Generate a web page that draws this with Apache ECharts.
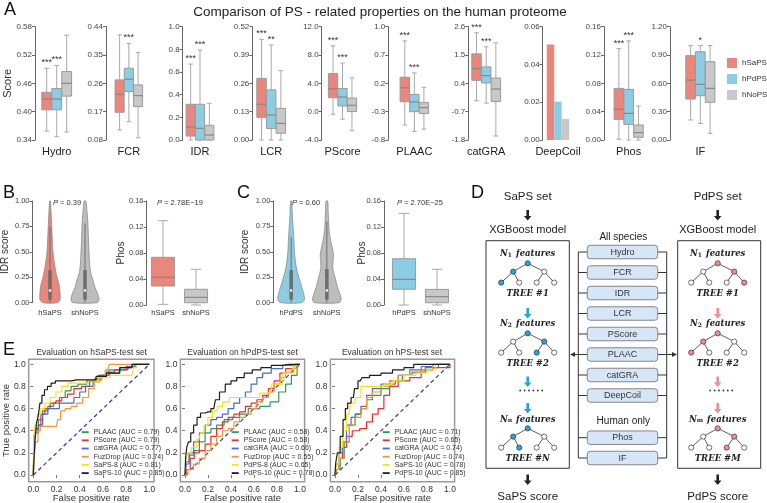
<!DOCTYPE html>
<html>
<head>
<meta charset="utf-8">
<title>PS-related properties on the human proteome</title>
<script src="https://cdn.jsdelivr.net/npm/echarts@6.0.0/dist/echarts.min.js"></script>
<style>
  html, body { margin: 0; padding: 0; background: #fff; }
  #chart { width: 767px; height: 503px; }
</style>
</head>
<body>
<div id="chart"></div>
<script>
const FONT = '"Liberation Sans", Arial, sans-serif';
const SERIF = '"DejaVu Serif", "Liberation Serif", serif';

// ---------- panel A data ----------
const groupNames = ['hSaPS', 'hPdPS', 'hNoPS'];
const groupColors = ['#EA867C', '#8DCDE3', '#C8C8C8'];

const hydroTicks = [0.34, 0.40, 0.46, 0.52, 0.58];
const fcrTicks = [0.08, 0.17, 0.26, 0.35, 0.44];
const idrTicks = [0, 0.2, 0.4, 0.6, 0.8, 1.0];
const lcrTicks = [0, 0.13, 0.26, 0.39, 0.52];
const pscoreTicks = [-4, 0, 4, 8, 12];
const plaacTicks = [-0.8, -0.3, 0.2, 0.7, 1.2];
const catgraTicks = [-1.8, -0.7, 0.4, 1.5, 2.6];
const deepcoilTicks = [0, 0.02, 0.04, 0.06];
const phosTicks = [0, 0.04, 0.08, 0.12, 0.16];
const ifTicks = [0, 0.3, 0.6, 0.9, 1.2];

const hydroLabels = ['0.34', '0.40', '0.46', '0.52', '0.58'];
const fcrLabels = ['0.08', '0.17', '0.26', '0.35', '0.44'];
const idrLabels = ['0.0', '0.2', '0.4', '0.6', '0.8', '1.0'];
const lcrLabels = ['0.00', '0.13', '0.26', '0.39', '0.52'];
const pscoreLabels = ['-4.0', '0.0', '4.0', '8.0', '12.0'];
const plaacLabels = ['-0.8', '-0.3', '0.2', '0.7', '1.0']; // top label printed as 1.0
const catgraLabels = ['-1.8', '-0.7', '0.4', '1.5', '2.6'];
const deepcoilLabels = ['0.00', '0.02', '0.04', '0.06'];
const phosLabels = ['0.00', '0.04', '0.08', '0.12', '0.16'];
const ifLabels = ['0.00', '0.30', '0.60', '0.90', '1.20'];

// [low, q1, median, q3, high] for hSaPS, hPdPS, hNoPS
const hydroBoxes = [[0.359, 0.404, 0.427, 0.441, 0.492], [0.347, 0.404, 0.427, 0.449, 0.498], [0.357, 0.433, 0.460, 0.485, 0.562]];
const fcrBoxes = [[0.112, 0.168, 0.225, 0.271, 0.414], [0.138, 0.234, 0.273, 0.308, 0.387], [0.087, 0.186, 0.221, 0.255, 0.358]];
const idrBoxes = [[0, 0.035, 0.115, 0.315, 0.67], [0, 0, 0.103, 0.315, 0.794], [0, 0, 0.044, 0.13, 0.324]];
const lcrBoxes = [[0, 0.104, 0.164, 0.283, 0.462], [0, 0.053, 0.115, 0.23, 0.436], [0, 0.031, 0.076, 0.145, 0.318]];
const pscoreBoxes = [[-0.36, 1.97, 3.23, 5.38, 9.3], [-1.06, 0.8, 2.07, 3.28, 6.87], [-2.69, 0.01, 0.9, 1.92, 4.77]];
const plaacBoxes = [[-0.537, -0.124, 0.121, 0.308, 0.95], [-0.648, -0.3, -0.13, 0.005, 0.384], [-0.607, -0.333, -0.228, -0.141, 0.133]];
const catgraBoxes = [[-0.277, 0.517, 0.973, 1.546, 2.366], [-0.368, 0.413, 0.7, 1.038, 1.819], [-1.644, -0.303, 0.179, 0.608, 1.975]];
const deepcoilBars = [0.0506, 0.0203, 0.0111];
const phosBoxes = [[0.001, 0.0292, 0.0433, 0.0729, 0.129], [0, 0.022, 0.0376, 0.0715, 0.14], [0, 0.0038, 0.0104, 0.0212, 0.048]];
const ifBoxes = [[0.212, 0.434, 0.635, 0.893, 0.999], [0.176, 0.469, 0.59, 0.935, 1.0], [0.07, 0.399, 0.547, 0.829, 1.0]];

const hydroStars = ['***', '***', ''];
const fcrStars = ['', '***', ''];
const idrStars = ['***', '***', ''];
const lcrStars = ['***', '**', ''];
const pscoreStars = ['***', '***', ''];
const plaacStars = ['***', '***', ''];
const catgraStars = ['***', '***', ''];
const phosStars = ['***', '***', ''];
const ifStars = ['', '*', ''];

// ---------- panels B / C data ----------
const bGroups = ['hSaPS', 'shNoPS'];
const cGroups = ['hPdPS', 'shNoPS'];
const violinTicks = [0, 0.25, 0.5, 0.75, 1.0];
const violinLabels = ['0.00', '0.25', '0.50', '0.75', '1.00'];
const phosBcTicks = [0, 0.04, 0.08, 0.12, 0.16];
const phosBcLabels = ['0.00', '0.04', '0.08', '0.12', '0.16'];

// violin half-widths (fraction of category band) at IDR score levels
const bSaPSViolin = [[0, 0.2], [0.03, 0.286], [0.1, 0.286], [0.18, 0.257], [0.25, 0.2], [0.35, 0.143], [0.5, 0.086], [0.65, 0.063], [0.8, 0.043], [0.9, 0.029], [1.0, 0.011]];
const bNoPSViolin = [[0, 0.343], [0.03, 0.4], [0.08, 0.371], [0.15, 0.286], [0.22, 0.229], [0.3, 0.157], [0.4, 0.129], [0.5, 0.114], [0.6, 0.1], [0.75, 0.086], [0.9, 0.057], [1.0, 0.023]];
const cPdPSViolin = [[0, 0.286], [0.03, 0.371], [0.08, 0.357], [0.15, 0.3], [0.25, 0.214], [0.35, 0.143], [0.5, 0.091], [0.6, 0.08], [0.7, 0.063], [0.8, 0.043], [0.9, 0.029], [1.0, 0.014]];
const cNoPSViolin = [[0, 0.343], [0.03, 0.4], [0.08, 0.371], [0.15, 0.3], [0.25, 0.229], [0.33, 0.171], [0.4, 0.171], [0.47, 0.186], [0.55, 0.143], [0.65, 0.086], [0.75, 0.057], [0.9, 0.037], [1.0, 0.023]];
// inner box of violins: [low, q1, median, q3, high]
const bViolinStats = [[0, 0.03, 0.12, 0.32, 0.75], [0, 0.03, 0.12, 0.32, 0.78]];
const cViolinStats = [[0, 0.03, 0.12, 0.32, 0.65], [0, 0.03, 0.12, 0.33, 0.8]];
const bPhosBoxes = [[0.001, 0.0292, 0.0426, 0.0734, 0.1297], [0, 0.0035, 0.0118, 0.0242, 0.055]];
const cPhosBoxes = [[0, 0.0242, 0.0395, 0.0712, 0.141], [0, 0.0035, 0.0128, 0.024, 0.055]];

// ---------- panel E data (ROC curves, [FPR, TPR]) ----------
const rocTicks = [0, 0.2, 0.4, 0.6, 0.8, 1.0];
const diagonal = [[0, 0], [1, 1]];
const rocColors = ['#2E9B57', '#EE2D2D', '#4A6BD0', '#F5963A', '#F9E21C', '#1E1E1E'];

const saps1Names = ['PLAAC (AUC = 0.79)', 'PScore (AUC = 0.79)', 'catGRA (AUC = 0.77)', 'FuzDrop (AUC = 0.74)', 'SaPS-8 (AUC = 0.81)', 'SaPS-10 (AUC = 0.85)'];
const plaac1 = [[0, 0], [0.01, 0.35], [0.03, 0.42], [0.06, 0.5], [0.1, 0.58], [0.15, 0.62], [0.2, 0.65], [0.25, 0.7], [0.3, 0.76], [0.35, 0.8], [0.42, 0.82], [0.5, 0.85], [0.56, 0.87], [0.6, 0.9], [0.7, 0.95], [0.8, 0.97], [0.9, 1], [1, 1]];
const pscore1 = [[0, 0], [0.01, 0.3], [0.03, 0.4], [0.05, 0.45], [0.08, 0.55], [0.12, 0.6], [0.17, 0.65], [0.22, 0.67], [0.27, 0.7], [0.32, 0.73], [0.38, 0.78], [0.45, 0.8], [0.52, 0.85], [0.6, 0.9], [0.65, 0.93], [0.75, 0.95], [0.85, 0.98], [0.9, 1], [1, 1]];
const catgra1 = [[0, 0], [0.01, 0.3], [0.03, 0.38], [0.06, 0.45], [0.1, 0.55], [0.15, 0.6], [0.2, 0.6], [0.25, 0.65], [0.32, 0.65], [0.38, 0.7], [0.42, 0.75], [0.48, 0.8], [0.55, 0.86], [0.62, 0.9], [0.7, 0.92], [0.78, 0.95], [0.85, 0.98], [0.9, 1], [1, 1]];
const fuzdrop1 = [[0, 0], [0.01, 0.15], [0.03, 0.3], [0.05, 0.4], [0.07, 0.44], [0.2, 0.44], [0.22, 0.5], [0.25, 0.58], [0.3, 0.6], [0.35, 0.62], [0.4, 0.65], [0.45, 0.7], [0.5, 0.78], [0.55, 0.84], [0.6, 0.88], [0.64, 0.95], [0.67, 1], [1, 1]];
const saps8_1 = [[0, 0], [0.005, 0.3], [0.02, 0.45], [0.05, 0.55], [0.08, 0.6], [0.12, 0.65], [0.17, 0.7], [0.22, 0.75], [0.27, 0.8], [0.33, 0.83], [0.45, 0.83], [0.5, 0.85], [0.62, 0.88], [0.7, 0.9], [0.85, 0.9], [0.88, 0.97], [0.9, 1], [1, 1]];
const saps10_1 = [[0, 0], [0.01, 0.14], [0.02, 0.32], [0.034, 0.47], [0.05, 0.53], [0.063, 0.65], [0.086, 0.72], [0.106, 0.77], [0.137, 0.8], [0.17, 0.83], [0.21, 0.85], [0.29, 0.85], [0.37, 0.86], [0.51, 0.86], [0.57, 0.89], [0.69, 0.92], [0.8, 0.97], [0.9, 1], [1, 1]];

const pdps2Names = ['PLAAC (AUC = 0.58)', 'PScore (AUC = 0.58)', 'catGRA (AUC = 0.66)', 'FuzDrop (AUC = 0.55)', 'PdPS-8 (AUC = 0.65)', 'PdPS-10 (AUC = 0.78)'];
const plaac2 = [[0, 0], [0.02, 0.12], [0.06, 0.18], [0.1, 0.22], [0.15, 0.3], [0.2, 0.38], [0.25, 0.42], [0.3, 0.45], [0.38, 0.5], [0.45, 0.52], [0.5, 0.55], [0.6, 0.6], [0.7, 0.62], [0.78, 0.66], [0.85, 0.75], [0.9, 0.82], [0.95, 0.9], [1, 1]];
const pscore2 = [[0, 0], [0.03, 0.05], [0.06, 0.15], [0.1, 0.2], [0.15, 0.22], [0.2, 0.28], [0.25, 0.35], [0.3, 0.42], [0.35, 0.48], [0.4, 0.52], [0.45, 0.55], [0.5, 0.57], [0.55, 0.62], [0.6, 0.65], [0.65, 0.68], [0.7, 0.72], [0.75, 0.78], [0.8, 0.85], [0.85, 0.92], [0.9, 0.96], [1, 1]];
const catgra2 = [[0, 0], [0.02, 0.1], [0.05, 0.2], [0.1, 0.3], [0.15, 0.38], [0.2, 0.45], [0.25, 0.5], [0.3, 0.52], [0.35, 0.55], [0.4, 0.6], [0.45, 0.65], [0.5, 0.7], [0.55, 0.75], [0.6, 0.82], [0.65, 0.88], [0.7, 0.92], [0.8, 0.96], [0.9, 0.99], [1, 1]];
const fuzdrop2 = [[0, 0], [0.05, 0.05], [0.1, 0.1], [0.15, 0.15], [0.2, 0.22], [0.25, 0.28], [0.3, 0.35], [0.35, 0.4], [0.4, 0.42], [0.45, 0.48], [0.5, 0.52], [0.55, 0.55], [0.6, 0.6], [0.65, 0.66], [0.7, 0.7], [0.75, 0.75], [0.8, 0.82], [0.85, 0.88], [0.9, 0.93], [0.95, 0.96], [1, 1]];
const pdps8_2 = [[0, 0], [0.01, 0.12], [0.03, 0.2], [0.08, 0.25], [0.12, 0.32], [0.15, 0.38], [0.18, 0.45], [0.22, 0.52], [0.26, 0.58], [0.3, 0.62], [0.35, 0.66], [0.42, 0.7], [0.6, 0.7], [0.7, 0.74], [0.8, 0.82], [0.9, 0.92], [1, 1]];
const pdps10_2 = [[0, 0], [0.01, 0.15], [0.02, 0.25], [0.04, 0.3], [0.06, 0.38], [0.09, 0.45], [0.12, 0.52], [0.15, 0.56], [0.2, 0.57], [0.25, 0.6], [0.28, 0.68], [0.32, 0.75], [0.38, 0.82], [0.42, 0.85], [0.48, 0.88], [0.55, 0.92], [0.62, 0.95], [0.7, 0.97], [0.8, 0.99], [0.9, 1], [1, 1]];

const hps3Names = ['PLAAC (AUC = 0.71)', 'PScore (AUC = 0.65)', 'catGRA (AUC = 0.74)', 'FuzDrop (AUC = 0.74)', 'SaPS-10 (AUC = 0.78)', 'PdPS-10 (AUC = 0.85)'];
const plaac3 = [[0, 0], [0.03, 0.05], [0.06, 0.15], [0.1, 0.3], [0.15, 0.45], [0.2, 0.55], [0.25, 0.6], [0.3, 0.68], [0.35, 0.72], [0.45, 0.78], [0.5, 0.82], [0.55, 0.85], [0.62, 0.9], [0.72, 0.93], [0.85, 0.97], [0.95, 1], [1, 1]];
const pscore3 = [[0, 0], [0.02, 0.05], [0.05, 0.15], [0.08, 0.25], [0.12, 0.35], [0.18, 0.4], [0.25, 0.42], [0.3, 0.48], [0.35, 0.55], [0.4, 0.6], [0.45, 0.72], [0.5, 0.8], [0.6, 0.85], [0.7, 0.88], [0.8, 0.95], [0.9, 0.97], [1, 0.97], [1, 1]];
const catgra3 = [[0, 0], [0.02, 0.1], [0.05, 0.2], [0.08, 0.3], [0.12, 0.45], [0.16, 0.52], [0.2, 0.55], [0.25, 0.62], [0.3, 0.72], [0.35, 0.78], [0.45, 0.82], [0.5, 0.85], [0.6, 0.9], [0.7, 0.95], [0.8, 0.98], [0.9, 1], [1, 1]];
const fuzdrop3 = [[0, 0], [0.02, 0.05], [0.05, 0.15], [0.1, 0.3], [0.15, 0.45], [0.2, 0.52], [0.25, 0.6], [0.3, 0.7], [0.35, 0.75], [0.45, 0.8], [0.5, 0.85], [0.6, 0.9], [0.7, 0.92], [0.8, 0.95], [0.9, 1], [1, 1]];
const saps10_3 = [[0, 0], [0.02, 0.1], [0.05, 0.25], [0.08, 0.4], [0.12, 0.55], [0.15, 0.65], [0.2, 0.7], [0.25, 0.8], [0.4, 0.8], [0.45, 0.82], [0.55, 0.85], [0.65, 0.9], [0.75, 0.92], [0.85, 0.95], [0.9, 1], [1, 1]];
const pdps10_3 = [[0, 0], [0.01, 0.1], [0.03, 0.2], [0.06, 0.35], [0.08, 0.5], [0.1, 0.6], [0.12, 0.65], [0.16, 0.7], [0.18, 0.78], [0.22, 0.85], [0.25, 0.88], [0.35, 0.9], [0.45, 0.92], [0.55, 0.95], [0.65, 0.97], [0.72, 1], [1, 1]];

// ---------- panel D text ----------
const dFeatAll = ['Hydro', 'FCR', 'IDR', 'LCR', 'PScore', 'PLAAC', 'catGRA', 'DeepCoil'];
const dFeatHuman = ['Phos', 'IF'];

// ---------- layout ----------
const A_TOP = 26.7, A_H = 113.3;
const aLayout = [
  { axisX: 35, left: 41.7, width: 30 },
  { axisX: 106, left: 115, width: 27.7 },
  { axisX: 182.7, left: 186, width: 28 },
  { axisX: 252.3, left: 256.7, width: 29 },
  { axisX: 321.7, left: 328.3, width: 28.4 },
  { axisX: 388.3, left: 400, width: 28.7 },
  { axisX: 468.3, left: 471.7, width: 29 },
  { axisX: 542.7, left: 546.7, width: 22.6 },
  { axisX: 604, left: 614, width: 29.3 },
  { axisX: 670, left: 685.7, width: 29.3 }
];
const aPanels = [
  { name: 'Hydro', ticks: hydroTicks, labels: hydroLabels, boxes: hydroBoxes, stars: hydroStars },
  { name: 'FCR', ticks: fcrTicks, labels: fcrLabels, boxes: fcrBoxes, stars: fcrStars },
  { name: 'IDR', ticks: idrTicks, labels: idrLabels, boxes: idrBoxes, stars: idrStars },
  { name: 'LCR', ticks: lcrTicks, labels: lcrLabels, boxes: lcrBoxes, stars: lcrStars },
  { name: 'PScore', ticks: pscoreTicks, labels: pscoreLabels, boxes: pscoreBoxes, stars: pscoreStars },
  { name: 'PLAAC', ticks: plaacTicks, labels: plaacLabels, boxes: plaacBoxes, stars: plaacStars },
  { name: 'catGRA', ticks: catgraTicks, labels: catgraLabels, boxes: catgraBoxes, stars: catgraStars },
  { name: 'DeepCoil', ticks: deepcoilTicks, labels: deepcoilLabels, bars: deepcoilBars },
  { name: 'Phos', ticks: phosTicks, labels: phosLabels, boxes: phosBoxes, stars: phosStars },
  { name: 'IF', ticks: ifTicks, labels: ifLabels, boxes: ifBoxes, stars: ifStars }
];

const grids = [], xAxes = [], yAxes = [], series = [], titles = [], legends = [];

function addGrid(left, top, width, height, extra) {
  grids.push(Object.assign({ left, top, width, height, containLabel: false, outerBoundsMode: 'none' }, extra || {}));
  return grids.length - 1;
}

function tickFormatter(ticks, labels) {
  const eps = Math.abs(ticks[ticks.length - 1] - ticks[0]) * 1e-4;
  return v => {
    const i = ticks.findIndex(t => Math.abs(t - v) < eps);
    return i < 0 ? '' : labels[i];
  };
}

function valueAxis(gi, ticks, labels, opts) {
  const n = ticks.length;
  return {
    gridIndex: gi, type: 'value',
    min: ticks[0], max: ticks[n - 1], interval: (ticks[n - 1] - ticks[0]) / (n - 1),
    offset: opts.offset || 0,
    axisLine: { show: true, lineStyle: { color: '#666', width: 1 } },
    axisTick: { show: true, length: 3, lineStyle: { color: '#666' }, customValues: ticks },
    axisLabel: { fontSize: opts.fontSize || 8, color: '#444', margin: 3, fontFamily: FONT, customValues: ticks, formatter: tickFormatter(ticks, labels) },
    splitLine: { show: false },
    name: opts.name || '', nameLocation: 'middle', nameGap: opts.nameGap || 20, nameMoveOverlap: false,
    nameTextStyle: { fontSize: opts.nameSize || 10, color: '#333', fontFamily: FONT }
  };
}

function makeBoxRender(fills, stars, boxFrac, capFrac) {
  return function (params, api) {
    const i = params.dataIndex;
    const cat = api.value(0);
    const p = k => api.coord([cat, api.value(k)]);
    const lo = p(1), q1 = p(2), md = p(3), q3 = p(4), hi = p(5);
    const band = api.size([1, 0])[0];
    const w = band * boxFrac, cw = w * capFrac, x = lo[0];
    const ws = { stroke: '#A9A9A9', lineWidth: 1 };
    const kids = [
      { type: 'line', shape: { x1: x, y1: hi[1], x2: x, y2: q3[1] }, style: ws },
      { type: 'line', shape: { x1: x, y1: q1[1], x2: x, y2: lo[1] }, style: ws },
      { type: 'line', shape: { x1: x - cw / 2, y1: hi[1], x2: x + cw / 2, y2: hi[1] }, style: ws },
      { type: 'line', shape: { x1: x - cw / 2, y1: lo[1], x2: x + cw / 2, y2: lo[1] }, style: ws },
      { type: 'rect', shape: { x: x - w / 2, y: q3[1], width: w, height: Math.max(q1[1] - q3[1], 0.5) }, style: { fill: fills[i], stroke: '#9A9A9A', lineWidth: 1 } },
      { type: 'line', shape: { x1: x - w / 2, y1: md[1], x2: x + w / 2, y2: md[1] }, style: { stroke: '#888', lineWidth: 1.2 } }
    ];
    if (stars && stars[i]) {
      kids.push({ type: 'text', x: x, y: hi[1] - 1, style: { text: stars[i], fontSize: 9, fill: '#333', fontFamily: FONT, align: 'center', verticalAlign: 'bottom' } });
    }
    return { type: 'group', children: kids };
  };
}

function makeViolinRender(profiles, fills) {
  return function (params, api) {
    const i = params.dataIndex, cat = api.value(0);
    const band = api.size([1, 0])[0];
    const prof = profiles[i];
    const pts = [];
    prof.forEach(([v, d]) => { const c = api.coord([cat, v]); pts.push([c[0] + d * band, c[1]]); });
    for (let j = prof.length - 1; j >= 0; j--) {
      const c = api.coord([cat, prof[j][0]]);
      pts.push([c[0] - prof[j][1] * band, c[1]]);
    }
    const p = k => api.coord([cat, api.value(k)]);
    const lo = p(1), q1 = p(2), md = p(3), q3 = p(4), hi = p(5), x = lo[0];
    return { type: 'group', children: [
      { type: 'polygon', shape: { points: pts, smooth: 0.3 }, style: { fill: fills[i], stroke: '#8C8C8C', lineWidth: 0.8 } },
      { type: 'line', shape: { x1: x, y1: hi[1], x2: x, y2: lo[1] }, style: { stroke: '#6E6E6E', lineWidth: 1 } },
      { type: 'rect', shape: { x: x - 1.8, y: q3[1], width: 3.6, height: q1[1] - q3[1] }, style: { fill: '#6E6E6E' } },
      { type: 'circle', shape: { cx: x, cy: md[1], r: 1.3 }, style: { fill: '#fff' } }
    ] };
  };
}

function catAxis(gi, cats, margin, name) {
  return {
    gridIndex: gi, type: 'category', data: cats,
    axisLine: { show: false }, axisTick: { show: false },
    axisLabel: { show: !name, fontSize: 7.5, color: '#333', margin: margin, fontFamily: FONT, interval: 0 },
    name: name || '', nameLocation: 'middle', nameGap: 6, nameMoveOverlap: false,
    nameTextStyle: { fontSize: 11, color: '#222', fontFamily: FONT }
  };
}

// ---------- panel A ----------
aPanels.forEach((p, k) => {
  const L = aLayout[k];
  const gi = addGrid(L.left, A_TOP, L.width, A_H);
  xAxes.push(catAxis(gi, p.bars ? [p.name] : groupNames, 0, p.name));
  yAxes.push(valueAxis(gi, p.ticks, p.labels, { offset: L.left - L.axisX, name: k === 0 ? 'Score' : '', nameGap: 22, nameSize: 11 }));
  if (p.bars) {
    groupNames.forEach((g, j) => series.push({
      type: 'bar', name: g, xAxisIndex: gi, yAxisIndex: gi, data: [p.bars[j]],
      barWidth: 7.5, barGap: '0%', itemStyle: { color: groupColors[j] }, silent: true
    }));
  } else {
    series.push({
      type: 'custom', xAxisIndex: gi, yAxisIndex: gi, clip: false, silent: true,
      renderItem: makeBoxRender(groupColors, p.stars, 0.98, 0.5),
      encode: { x: 0, y: [1, 2, 3, 4, 5] },
      data: p.boxes.map((b, j) => [j].concat(b))
    });
  }
});
legends.push({
  data: groupNames, left: 727, top: 58, orient: 'vertical', icon: 'rect', padding: 0,
  itemWidth: 10, itemHeight: 10, itemGap: 6, selectedMode: false,
  textStyle: { fontSize: 8, color: '#333', fontFamily: FONT, overflow: 'none' }
});

// ---------- panels B / C ----------
const bcLayout = [
  { kind: 'violin', left: 32.5, width: 70, top: 201, height: 101.7, offset: 0, margin: 6.5, name: 'IDR score', nameGap: 22, groups: bGroups, profiles: [bSaPSViolin, bNoPSViolin], stats: bViolinStats, fills: ['#EA867C', '#BDBDBD'] },
  { kind: 'box', left: 146.5, width: 66, top: 201, height: 104, offset: 0, margin: 4, name: 'Phos', nameGap: 20, groups: bGroups, boxes: bPhosBoxes, fills: ['#EA867C', '#C8C8C8'] },
  { kind: 'violin', left: 273.3, width: 71.4, top: 201, height: 101.7, offset: 0, margin: 6.5, name: 'IDR score', nameGap: 23, groups: cGroups, profiles: [cPdPSViolin, cNoPSViolin], stats: cViolinStats, fills: ['#8DCDE3', '#BDBDBD'] },
  { kind: 'box', left: 387.5, width: 66, top: 201, height: 104, offset: 3.5, margin: 4, name: 'Phos', nameGap: 17, groups: cGroups, boxes: cPhosBoxes, fills: ['#8DCDE3', '#C8C8C8'] }
];
bcLayout.forEach(L => {
  const gi = addGrid(L.left, L.top, L.width, L.height);
  xAxes.push(catAxis(gi, L.groups, L.margin));
  if (L.kind === 'violin') {
    yAxes.push(valueAxis(gi, violinTicks, violinLabels, { offset: L.offset, name: L.name, nameGap: L.nameGap, fontSize: 7.5, nameSize: 10 }));
    series.push({
      type: 'custom', xAxisIndex: gi, yAxisIndex: gi, clip: false, silent: true,
      renderItem: makeViolinRender(L.profiles, L.fills),
      encode: { x: 0, y: [1, 2, 3, 4, 5] },
      data: L.stats.map((s, j) => [j].concat(s))
    });
  } else {
    yAxes.push(valueAxis(gi, phosBcTicks, phosBcLabels, { offset: L.offset, name: L.name, nameGap: L.nameGap, fontSize: 7.5, nameSize: 10 }));
    series.push({
      type: 'custom', xAxisIndex: gi, yAxisIndex: gi, clip: false, silent: true,
      renderItem: makeBoxRender(L.fills, null, 0.7, 0.45),
      encode: { x: 0, y: [1, 2, 3, 4, 5] },
      data: L.boxes.map((b, j) => [j].concat(b))
    });
  }
});

// ---------- panel E ----------
const eLayout = [
  { left: 28.7, width: 125.3, legendLeft: 81.7, titleX: 91.7, yName: 'True positive rate' },
  { left: 180.4, width: 124.2, legendLeft: 231.7, titleX: 242.5 },
  { left: 330.4, width: 124.2, legendLeft: 382.7, titleX: 392 }
];
const eSets = [
  { title: 'Evaluation on hSaPS-test set', names: saps1Names, curves: [plaac1, pscore1, catgra1, fuzdrop1, saps8_1, saps10_1] },
  { title: 'Evaluation on hPdPS-test set', names: pdps2Names, curves: [plaac2, pscore2, catgra2, fuzdrop2, pdps8_2, pdps10_2] },
  { title: 'Evaluation on hPS-test set', names: hps3Names, curves: [plaac3, pscore3, catgra3, fuzdrop3, saps10_3, pdps10_3] }
];
const rocLabel = v => (Math.abs(v) < 1e-9 ? 0 : v).toFixed(1);
eSets.forEach((set, k) => {
  const L = eLayout[k];
  const gi = addGrid(L.left, 359.3, L.width, 122.4, { show: true, borderColor: '#9A9A9A', borderWidth: 1.5, backgroundColor: 'transparent' });
  const axisBase = {
    gridIndex: gi, type: 'value',
    axisLine: { show: false },
    axisTick: { show: true, length: 3, lineStyle: { color: '#777' }, customValues: rocTicks },
    axisLabel: { fontSize: 8.5, color: '#333', margin: 3, fontFamily: FONT, customValues: rocTicks, formatter: rocLabel },
    splitLine: { show: false }, nameLocation: 'middle', nameMoveOverlap: false,
    nameTextStyle: { fontSize: 9.5, color: '#333', fontFamily: FONT }
  };
  xAxes.push(Object.assign({}, axisBase, { min: -0.04, max: 1.04, name: 'False positive rate', nameGap: 12 }));
  yAxes.push(Object.assign({}, axisBase, { min: -0.06, max: 1.045, name: L.yName || '', nameGap: 17 }));
  series.push({
    type: 'line', xAxisIndex: gi, yAxisIndex: gi, data: diagonal, showSymbol: false, silent: true,
    lineStyle: { color: '#2F3C9E', width: 1.2, type: [4, 3] }, z: 1
  });
  set.curves.forEach((c, j) => series.push({
    type: 'line', name: set.names[j], xAxisIndex: gi, yAxisIndex: gi, data: c,
    showSymbol: false, silent: true, step: 'middle',
    lineStyle: { color: rocColors[j], width: 1.2 }, itemStyle: { color: rocColors[j] }, z: 2 + j
  }));
  legends.push({
    data: set.names, left: L.legendLeft, top: 428.6, orient: 'vertical', icon: 'rect', padding: 0,
    itemWidth: 7, itemHeight: 1.8, itemGap: 1.2, selectedMode: false,
    textStyle: { fontSize: 7, lineHeight: 7, color: '#333', fontFamily: FONT }
  });
  titles.push({ text: set.title, left: L.titleX, top: 353, textAlign: 'center', textVerticalAlign: 'middle', padding: 0, textStyle: { fontSize: 8.5, fontWeight: 'normal', color: '#333', fontFamily: FONT } });
});

// ---------- texts ----------
function label(text, x, y, size, align) {
  titles.push({ text, left: x, top: y, textAlign: align || 'left', textVerticalAlign: 'middle', padding: 0, textStyle: { fontSize: size, fontWeight: 'normal', color: '#111', fontFamily: FONT } });
}
label('A', 4, 10, 18);
label('B', 3, 193.5, 18);
label('C', 237, 193.5, 18);
label('D', 471, 193.5, 18);
label('E', 3, 350, 18);
titles.push({ text: 'Comparison of PS - related properties on the human proteome', left: 380, top: 12, textAlign: 'center', textVerticalAlign: 'middle', padding: 0, textStyle: { fontSize: 13.5, fontWeight: 'normal', color: '#222', fontFamily: FONT } });
function pText(value, x) {
  titles.push({ text: '{i|P} = ' + value, left: x, top: 202.7, textAlign: 'center', textVerticalAlign: 'middle', padding: 0,
    textStyle: { fontSize: 7.5, fontWeight: 'normal', color: '#333', fontFamily: FONT, rich: { i: { fontStyle: 'italic', fontSize: 7.5, fontFamily: FONT, color: '#333' } } } });
}
pText('0.39', 67);
pText('2.78E\u221219', 180);
pText('0.60', 306);
pText('2.70E\u221225', 420);

// ---------- panel D diagram ----------
const dg = [];
const BLUE = '#29A3DD', PINK = '#F28E8E';
function dText(x, y, text, size, more) {
  dg.push({ type: 'text', x, y, silent: true, style: Object.assign({ text, fontSize: size, fontFamily: FONT, fill: '#222', align: 'center', verticalAlign: 'middle' }, more || {}) });
}
function dLine(x1, y1, x2, y2, w) {
  dg.push({ type: 'line', silent: true, shape: { x1, y1, x2, y2 }, style: { stroke: '#333', lineWidth: w || 1 } });
}
function arrowDown(x, y0, y1, color) {
  dg.push({ type: 'rect', silent: true, shape: { x: x - 1.3, y: y0, width: 2.6, height: y1 - y0 - 4 }, style: { fill: color } });
  dg.push({ type: 'polygon', silent: true, shape: { points: [[x - 3.8, y1 - 4.6], [x + 3.8, y1 - 4.6], [x, y1]] }, style: { fill: color } });
}
function arrowH(x0, x1, y) {
  const dir = Math.sign(x1 - x0);
  dLine(x0, y, x1 - dir * 4, y, 1);
  dg.push({ type: 'polygon', silent: true, shape: { points: [[x1, y], [x1 - dir * 5, y - 2.6], [x1 - dir * 5, y + 2.6]] }, style: { fill: '#333' } });
}
const treeNodes = [[0, 0], [-14.5, 8.3], [16.5, 8.3], [-26.5, 19.3], [-8.5, 19.3], [9, 19.3], [26.5, 19.3]];
const treeEdges = [[0, 1], [0, 2], [1, 3], [1, 4], [2, 5], [2, 6]];
function dTree(cx, y0, filled, color) {
  treeEdges.forEach(([a, b]) => dLine(cx + treeNodes[a][0], y0 + treeNodes[a][1], cx + treeNodes[b][0], y0 + treeNodes[b][1], 0.8));
  treeNodes.forEach(([dx, dy], i) => dg.push({ type: 'circle', silent: true, shape: { cx: cx + dx, cy: y0 + dy, r: 2.6 }, style: { fill: filled.indexOf(i) >= 0 ? color : '#fff', stroke: '#333', lineWidth: 0.7 } }));
}
function featText(x, y, sub) {
  dText(x, y, '{b|N}{s|' + sub + '}{b| features}', 9, {
    rich: {
      b: { fontFamily: SERIF, fontWeight: 'bold', fontStyle: 'italic', fontSize: 8.5, fill: '#222' },
      s: { fontFamily: SERIF, fontWeight: 'bold', fontSize: 6, fill: '#222', verticalAlign: 'bottom', padding: [3, 1, 0, 0] }
    }
  });
}
function treeText(x, y, t) {
  dText(x, y, t, 8.5, { fontFamily: SERIF, fontWeight: 'bold', fontStyle: 'italic' });
}
function dots(cx, y) {
  for (let i = 0; i < 6; i++) dg.push({ type: 'circle', silent: true, shape: { cx: cx - 9 + i * 4.4, cy: y, r: 0.9 }, style: { fill: '#333' } });
}
function modelColumn(cx, boxLeft, boxW, setName, scoreName, color, subs, treeLabels, fills) {
  dText(cx, 197.3, setName, 11.5);
  arrowDown(cx, 210, 220.5, '#222');
  dText(cx, 230, 'XGBoost model', 11);
  dg.push({ type: 'rect', silent: true, shape: { x: boxLeft, y: 240.7, width: boxW, height: 227.6 }, style: { fill: 'none', stroke: '#333', lineWidth: 1 } });
  const featY = [254, 324, 419.3], rootY = [263.3, 333.3, 428.3], labY = [294, 364, 458.3];
  for (let t = 0; t < 3; t++) {
    featText(cx, featY[t], subs[t]);
    dTree(cx, rootY[t], fills[t], color);
    treeText(cx, labY[t], treeLabels[t]);
  }
  arrowDown(cx, 308, 318.5, color);
  arrowDown(cx, 376.5, 387, color);
  dots(cx + 1.5, 390.5);
  arrowDown(cx, 403, 413.5, color);
  arrowDown(cx, 474.5, 485, '#222');
  dText(cx, 497.3, scoreName, 11.5);
}
modelColumn(527.7, 486, 83.3, 'SaPS set', 'SaPS score', BLUE, ['1', '2', 'n'], ['TREE #1', 'TREE #2', 'TREE #N'], [[0, 1, 3], [0, 2, 5], [0, 1, 4]]);
modelColumn(717.7, 677.7, 83, 'PdPS set', 'PdPS score', PINK, ['1', '2', 'm'], ['TREE #1', 'TREE #2', 'TREE #M'], [[0, 2, 6], [0, 1, 3], [0, 2, 5]]);

const featBoxCx = 622.5, featBoxW = 70.4, featBoxH = 13.5;
const featBoxY = [252, 272.5, 293, 313.5, 334, 354.5, 375, 395.5, 437.7, 458];
const connL = 578.3, connR = 666.7;
dText(623.3, 237.3, 'All species', 10);
dText(623.3, 421.7, 'Human only', 10);
dLine(connL, featBoxY[0], connL, featBoxY[featBoxY.length - 1]);
dLine(connR, featBoxY[0], connR, featBoxY[featBoxY.length - 1]);
dFeatAll.concat(dFeatHuman).forEach((f, i) => {
  const y = featBoxY[i];
  dLine(connL, y, featBoxCx - featBoxW / 2, y);
  dLine(featBoxCx + featBoxW / 2, y, connR, y);
  dg.push({ type: 'rect', silent: true, shape: { x: featBoxCx - featBoxW / 2, y: y - featBoxH / 2, width: featBoxW, height: featBoxH, r: 3 }, style: { fill: '#D6E6F6', stroke: '#7A7A7A', lineWidth: 0.9 } });
  dText(featBoxCx, y + 0.3, f, 9, { fill: '#333' });
});
arrowH(connL, 570, featBoxY[5]);
arrowH(connR, 677, featBoxY[5]);

// ---------- chart ----------
const chart = echarts.init(document.getElementById('chart'), null, { renderer: 'canvas', width: 767, height: 503 });
chart.setOption({
  animation: false,
  backgroundColor: '#fff',
  textStyle: { fontFamily: FONT },
  title: titles,
  legend: legends,
  grid: grids,
  xAxis: xAxes,
  yAxis: yAxes,
  series: series,
  graphic: { elements: dg }
});
</script>
</body>
</html>
